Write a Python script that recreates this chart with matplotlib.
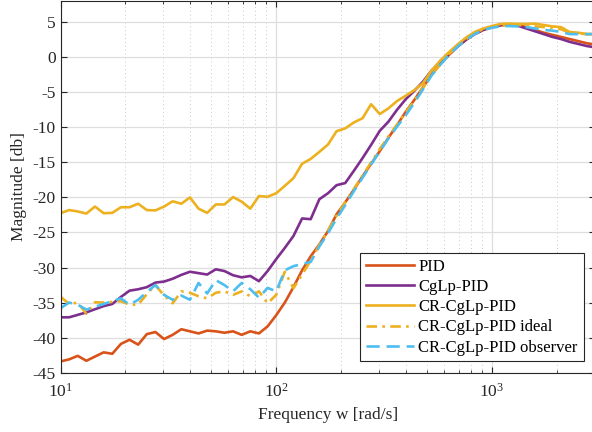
import matplotlib
matplotlib.use("Agg")
import matplotlib.pyplot as plt
from matplotlib.ticker import LogLocator, NullFormatter

# measured frequency points [rad/s]
freq = [10.00, 10.96, 12.02, 13.18, 14.45, 15.85, 17.38, 19.05, 20.89, 22.91,
        25.12, 27.54, 30.20, 33.11, 36.31, 39.81, 43.65, 47.86, 52.48, 57.54,
        63.10, 69.18, 75.86, 83.18, 91.20, 100.0, 109.6, 120.2, 131.8, 144.5,
        158.5, 173.8, 190.5, 208.9, 229.1, 251.2, 275.4, 302.0, 331.1, 363.1,
        398.1, 436.5, 478.6, 524.8, 575.4, 631.0, 691.8, 758.6, 831.8, 912.0,
        1000, 1096, 1202, 1318, 1445, 1585, 1738, 1905, 2089, 2291,
        2512, 2754, 3020]

# magnitude [dB]
mag_pid = [-43.4, -43.1, -42.6, -43.3, -42.7, -42.1, -42.3, -40.9, -40.3, -41.0,
           -39.5, -39.2, -40.2, -39.6, -38.8, -39.1, -39.4, -39.0, -39.1, -39.3,
           -39.1, -39.6, -39.1, -39.4, -38.4, -36.8, -35.0, -32.8, -30.4, -28.4,
           -26.7, -24.8, -22.4, -20.7, -18.9, -17.0, -15.2, -13.4, -11.5, -9.7,
           -7.8, -6.1, -4.3, -2.5, -1.0, 0.3, 1.5, 2.5, 3.3, 3.9,
           4.3, 4.55, 4.65, 4.6, 4.3, 3.9, 3.5, 3.2, 2.9, 2.6,
           2.3, 2.0, 1.8]

mag_cglp = [-37.1, -37.1, -36.75, -36.4, -35.95, -35.5, -35.2, -34.2, -33.3, -33.1,
            -32.8, -32.15, -32.0, -31.6, -31.05, -30.6, -30.8, -31.0, -30.25, -30.5,
            -31.1, -31.4, -31.2, -31.95, -30.5, -28.8, -27.2, -25.5, -23.0, -23.1,
            -20.25, -19.4, -18.25, -17.95, -16.2, -14.4, -12.5, -10.5, -9.2, -7.5,
            -6.0, -4.8, -3.5, -1.9, -0.8, 0.4, 1.5, 2.5, 3.3, 3.9,
            4.3, 4.6, 4.7, 4.5, 4.1, 3.7, 3.3, 2.9, 2.6, 2.2,
            1.9, 1.6, 1.4]

mag_cr = [-22.25, -21.8, -22.0, -22.3, -21.3, -22.25, -22.2, -21.4, -21.4, -20.9,
          -21.8, -21.85, -21.3, -20.55, -20.9, -20.0, -21.6, -22.2, -21.0, -21.0,
          -19.95, -20.6, -21.6, -19.8, -19.9, -19.4, -18.35, -17.25, -15.2, -14.5,
          -13.5, -12.45, -10.55, -10.15, -9.3, -8.7, -6.7, -8.1, -7.3, -6.25,
          -5.5, -4.7, -3.7, -1.9, -0.5, 0.7, 1.8, 2.8, 3.6, 4.1,
          4.45, 4.75, 4.8, 4.75, 4.75, 4.8, 4.6, 4.4, 4.3, 3.6,
          3.5, 3.3, 3.3]

mag_ideal = [-34.15, -35.2, -35.0, -36.6, -34.95, -35.0, -34.9, -34.8, -35.3, -35.3,
             -33.8, -32.5, -34.0, -35.1, -33.4, -33.6, -34.1, -34.4, -33.6, -33.4,
             -33.9, -33.4, -34.1, -33.4, -35.1, -33.9, -30.6, -32.95, -31.0, -29.0,
             -26.8, -24.7, -22.6, -20.7, -18.8, -16.9, -15.0, -13.1, -11.3, -9.6,
             -7.9, -6.2, -4.4, -2.5, -1.0, 0.4, 1.6, 2.6, 3.4, 4.0,
             4.3, 4.5, 4.6, 4.6, 4.5, 4.4, 4.3, 4.2, 4.0, 3.5,
             3.4, 3.3, 3.3]

mag_obs = [-35.8, -35.0, -35.3, -36.0, -35.6, -35.2, -34.8, -34.4, -35.3, -34.6,
           -33.5, -32.5, -33.9, -34.6, -34.0, -34.6, -32.2, -33.7, -31.8, -32.5,
           -33.4, -32.2, -33.1, -34.3, -32.9, -33.4, -30.4, -29.8, -29.5, -29.2,
           -27.0, -25.1, -23.0, -21.1, -19.1, -17.2, -15.3, -13.4, -11.6, -9.9,
           -8.3, -6.5, -4.6, -2.6, -1.1, 0.3, 1.5, 2.5, 3.3, 3.9,
           4.2, 4.4, 4.45, 4.4, 4.3, 4.1, 3.9, 3.8, 3.6, 3.3,
           3.3, 3.3, 3.3]

yticks = [-45, -40, -35, -30, -25, -20, -15, -10, -5, 0, 5]

plt.rcParams["font.family"] = ["Liberation Serif", "DejaVu Serif"]
plt.rcParams["mathtext.fontset"] = "stix"
plt.rcParams["axes.unicode_minus"] = False

fig = plt.figure(figsize=(5.92, 4.32), dpi=100)
ax = fig.add_axes([0.1022, 0.1373, 0.9026, 0.86])

lw = 1.9
ax.plot(freq, mag_pid, "-", color="#D95319", lw=lw, label="PID")
ax.plot(freq, mag_cglp, "-", color="#7E2F8E", lw=lw, label="CgLp-PID")
ax.plot(freq, mag_cr, "-", color="#EDB120", lw=lw, label="CR-CgLp-PID")
ax.plot(freq, mag_ideal, ls=(0, (4, 2, 1, 2)), color="#EDB120", lw=lw,
        label="CR-CgLp-PID ideal")
ax.plot(freq, mag_obs, ls=(0, (5, 2.6)), color="#4DBEEE", lw=lw,
        label="CR-CgLp-PID observer")

ax.set_xscale("log")
ax.set_xlim(10, 3000)
ax.set_ylim(-45, 8)
ax.set_yticks(yticks)
ax.xaxis.set_minor_locator(LogLocator(base=10, subs=range(2, 10)))
ax.xaxis.set_minor_formatter(NullFormatter())

ax.grid(True, which="major", color="#dedede", lw=0.9)
ax.grid(True, which="minor", axis="x", color="#c8c8c8", lw=0.7, ls=(0, (1, 3)))
ax.set_axisbelow(True)

ax.tick_params(which="both", direction="in", top=True, right=True,
               colors="#262626", labelsize=12.5)
ax.tick_params(which="major", length=4)
ax.tick_params(which="minor", length=2.5)
ax.tick_params(axis="x", which="major", pad=7)
for sp in ax.spines.values():
    sp.set_color("#262626")
    sp.set_linewidth(0.8)

ax.set_xlabel("Frequency w [rad/s]", fontsize=12.5, color="#262626", labelpad=5)
ax.set_ylabel("Magnitude [db]", fontsize=12.5, color="#262626", labelpad=4)

leg = ax.legend(loc="upper left", bbox_to_anchor=(360 / 592, 1 - 253 / 432),
                bbox_transform=fig.transFigure, borderaxespad=0,
                fontsize=12, fancybox=False, framealpha=1, edgecolor="#262626",
                handlelength=2.9, handletextpad=0.25, labelspacing=0.25,
                borderpad=0.35)
leg.get_frame().set_linewidth(0.8)

fig.savefig("out.png", dpi=100)
